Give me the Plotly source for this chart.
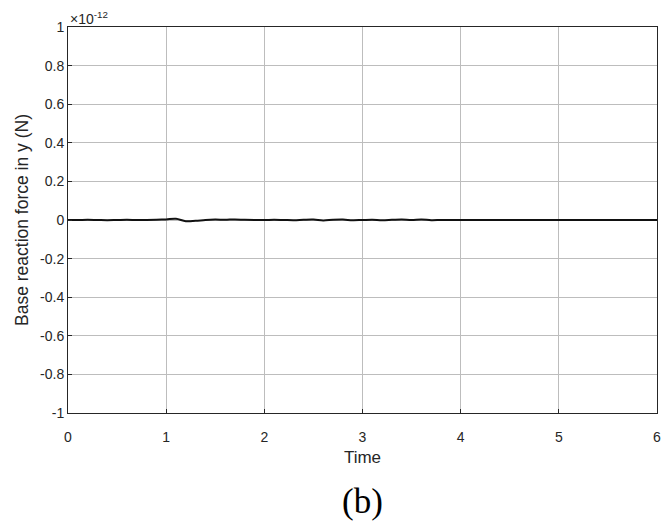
import plotly.graph_objects as go

time = [0.0, 0.1, 0.2, 0.3, 0.4, 0.5, 0.6, 0.7, 0.8, 0.9,
        1.0, 1.1, 1.2, 1.3, 1.4, 1.5, 1.6, 1.7, 1.8, 1.9,
        2.0, 2.1, 2.2, 2.3, 2.4, 2.5, 2.6, 2.7, 2.8, 2.9,
        3.0, 3.1, 3.2, 3.3, 3.4, 3.5, 3.6, 3.7, 3.8, 3.9,
        4.0, 4.1, 4.2, 4.3, 4.4, 4.5, 4.6, 4.7, 4.8, 4.9,
        5.0, 5.1, 5.2, 5.3, 5.4, 5.5, 5.6, 5.7, 5.8, 5.9, 6.0]
# force in units of 1e-12 N
force = [0.000, 0.000, 0.001, 0.000, -0.001, 0.000, 0.001, 0.000, 0.000, 0.001,
         0.003, 0.006, -0.006, -0.004, 0.000, 0.002, 0.001, 0.003, 0.001, 0.000,
         0.000, 0.001, 0.000, -0.001, 0.001, 0.002, -0.002, 0.001, 0.002, -0.001,
         0.000, 0.001, -0.001, 0.001, 0.003, 0.000, 0.003, -0.001, 0.000, 0.000,
         0.000, 0.000, 0.000, 0.000, 0.000, 0.000, 0.000, 0.000, 0.000, 0.000,
         0.000, 0.000, 0.000, 0.000, 0.000, 0.000, 0.000, 0.000, 0.000, 0.000, 0.000]
x_ticks = [0, 1, 2, 3, 4, 5, 6]
y_ticks = [-1, -0.8, -0.6, -0.4, -0.2, 0, 0.2, 0.4, 0.6, 0.8, 1]
y_labels = ["-1", "-0.8", "-0.6", "-0.4", "-0.2", "0", "0.2", "0.4", "0.6", "0.8", "1"]

FONT = "Liberation Sans, Arial"

fig = go.Figure()
fig.add_trace(go.Scatter(x=time, y=force, mode="lines",
                         line=dict(color="#111111", width=2, shape="spline"),
                         showlegend=False))

axis_common = dict(showline=True, linecolor="#262626", linewidth=1, mirror=True,
                   showgrid=True, gridcolor="#bdbdbd", gridwidth=1,
                   zeroline=False, ticks="inside", ticklen=4, tickcolor="#262626",
                   automargin=False,
                   tickfont=dict(family=FONT, size=14, color="#262626"))

fig.update_xaxes(range=[0, 6], tickvals=x_ticks, ticklabelstandoff=11,
                 title=dict(text="Time", font=dict(family=FONT, size=17, color="#262626"), standoff=7),
                 **axis_common)
fig.update_yaxes(range=[-1, 1], tickvals=y_ticks, ticktext=y_labels,
                 title=dict(text="Base reaction force in y (N)", font=dict(family=FONT, size=17.5, color="#262626"), standoff=6),
                 **axis_common)

fig.add_annotation(text="×10<sup>-12</sup>", xref="paper", yref="paper", x=0.0, y=1.0,
                   xanchor="left", yanchor="bottom", showarrow=False, yshift=-2,
                   font=dict(family=FONT, size=14, color="#262626"))
fig.add_annotation(text="(b)", xref="paper", yref="paper", x=0.5, y=-0.23,
                   xanchor="center", yanchor="middle", showarrow=False,
                   font=dict(family="Liberation Serif, Times New Roman", size=35, color="black"))

fig.update_layout(width=662, height=524, plot_bgcolor="white", paper_bgcolor="white",
                  margin=dict(l=68, r=5, t=27, b=111))
fig.write_html("out.html", config={"displayModeBar": False},
               post_script="document.body.style.margin='0';")
